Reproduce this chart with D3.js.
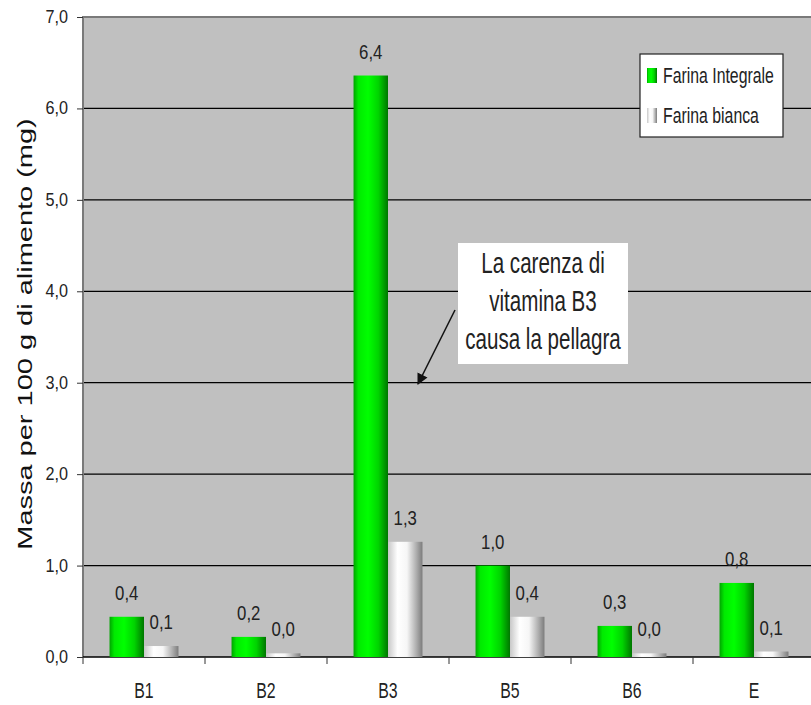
<!DOCTYPE html>
<html>
<head>
<meta charset="utf-8">
<script src="https://cdn.jsdelivr.net/npm/d3@7"></script>
<style>
  html, body { margin: 0; padding: 0; background: #ffffff; }
  svg { display: block; }
  text { font-family: "Liberation Sans", Arial, sans-serif; fill: #222; }
</style>
</head>
<body>
<svg id="chart" width="811" height="705"></svg>
<script>
// Vitamin content per 100 g of flour (mg)
const categories = ["B1", "B2", "B3", "B5", "B6", "E"];
const seriesNames = ["Farina Integrale", "Farina bianca"];
const integrale = [0.44, 0.22, 6.36, 1.00, 0.34, 0.81];
const bianca = [0.12, 0.04, 1.26, 0.44, 0.04, 0.06];
const yTicks = [0, 1, 2, 3, 4, 5, 6, 7];
const yTitle = "Massa per 100 g di alimento (mg)";
const noteLines = ["La carenza di", "vitamina B3", "causa la pellagra"];

const itLocale = d3.formatLocale({ decimal: ",", thousands: ".", grouping: [3], currency: ["", "€"] });
const fmt = itLocale.format(".1f");

const svg = d3.select("#chart");
const plot = { left: 83, top: 17, right: 815, bottom: 657 };

const x0 = d3.scaleBand().domain(categories).range([plot.left, plot.right]).paddingInner(0).paddingOuter(0);
const x1 = d3.scaleBand().domain(seriesNames).range([0, x0.bandwidth()]).paddingInner(0).paddingOuter(0.77);
const y = d3.scaleLinear().domain([0, 7]).range([plot.bottom, plot.top]);

// gradients for the cylinder-like bars
const defs = svg.append("defs");
function grad(id, stops) {
  const g = defs.append("linearGradient").attr("id", id).attr("x1", "0%").attr("x2", "100%").attr("y1", "0%").attr("y2", "0%");
  stops.forEach(s => g.append("stop").attr("offset", s[0]).attr("stop-color", s[1]));
}
grad("gGreen", [["0%", "#00a400"], ["14%", "#00ea00"], ["42%", "#00ff00"], ["72%", "#00d400"], ["100%", "#007600"]]);
grad("gWhite", [["0%", "#c8c8c8"], ["28%", "#ffffff"], ["55%", "#f6f6f6"], ["80%", "#b4b4b4"], ["100%", "#7c7c7c"]]);
const fills = { "Farina Integrale": "url(#gGreen)", "Farina bianca": "url(#gWhite)" };

// plot background
svg.append("rect")
  .attr("x", plot.left).attr("y", plot.top)
  .attr("width", plot.right - plot.left).attr("height", plot.bottom - plot.top)
  .attr("fill", "#c0c0c0");

// gridlines
svg.append("g").selectAll("line")
  .data(yTicks.filter(t => t > 0 && t < 7))
  .join("line")
  .attr("x1", plot.left).attr("x2", plot.right)
  .attr("y1", d => y(d)).attr("y2", d => y(d))
  .attr("stroke", "#000").attr("stroke-width", 1.2);

// frame (top and left)
svg.append("path")
  .attr("d", `M${plot.left},${plot.bottom} V${plot.top} H${plot.right}`)
  .attr("fill", "none").attr("stroke", "#7a7a7a").attr("stroke-width", 2);

// helper for horizontally condensed text
function htext(g, x, yy, str, size, sx, anchor) {
  return g.append("text")
    .attr("transform", `translate(${x},${yy}) scale(${sx},1)`)
    .attr("text-anchor", anchor || "middle")
    .style("font-size", size + "px")
    .text(str);
}

// y axis
const yAxis = svg.append("g")
  .attr("transform", `translate(${plot.left},0)`)
  .call(d3.axisLeft(y).tickValues(yTicks).tickSize(6).tickFormat(""));
yAxis.select(".domain").remove();
yAxis.selectAll("line").attr("stroke", "#333");
yTicks.forEach(t => htext(svg, 68, y(t) + 6, fmt(t), 18, 0.9, "end"));

// x axis
svg.append("line")
  .attr("x1", plot.left).attr("x2", plot.right)
  .attr("y1", plot.bottom).attr("y2", plot.bottom)
  .attr("stroke", "#000").attr("stroke-width", 1.5);
const edges = categories.map(c => x0(c)).concat([plot.right]);
svg.append("g").selectAll("line").data(edges).join("line")
  .attr("x1", d => d).attr("x2", d => d)
  .attr("y1", plot.bottom).attr("y2", plot.bottom + 7)
  .attr("stroke", "#333");
categories.forEach(c => htext(svg, x0(c) + x0.bandwidth() / 2, 698, c, 22, 0.72));

// bars
const data = categories.map((c, i) => ({ cat: c, vals: [
  { name: seriesNames[0], v: integrale[i] },
  { name: seriesNames[1], v: bianca[i] }
] }));

const groups = svg.append("g").selectAll("g").data(data).join("g")
  .attr("transform", d => `translate(${x0(d.cat)},0)`);
groups.selectAll("rect").data(d => d.vals).join("rect")
  .attr("x", d => x1(d.name))
  .attr("y", d => y(d.v))
  .attr("width", x1.bandwidth())
  .attr("height", d => y(0) - y(d.v))
  .attr("fill", d => fills[d.name]);

// value labels
data.forEach(d => {
  d.vals.forEach(s => {
    htext(svg, x0(d.cat) + x1(s.name) + x1.bandwidth() / 2, y(s.v) - 17, fmt(s.v), 20, 0.84);
  });
});

// y title
svg.append("text")
  .attr("transform", `translate(32,${(plot.top + plot.bottom) / 2 - 3}) rotate(-90) scale(1.38,1)`)
  .attr("text-anchor", "middle")
  .style("font-size", "21px")
  .style("fill", "#111")
  .text(yTitle);

// legend
const lg = svg.append("g");
lg.append("rect").attr("x", 640).attr("y", 54).attr("width", 143).attr("height", 83)
  .attr("fill", "#fff").attr("stroke", "#222").attr("stroke-width", 1.2);
seriesNames.forEach((n, i) => {
  const yy = 68 + i * 40;
  lg.append("rect").attr("x", 647).attr("y", yy).attr("width", 10).attr("height", 15).attr("fill", fills[n]);
  htext(lg, 663, yy + 15, n, 22, 0.72, "start");
});

// annotation box with arrow pointing at the B3 bar
const note = svg.append("g");
note.append("rect").attr("x", 458).attr("y", 243).attr("width", 170).attr("height", 121).attr("fill", "#fff");
noteLines.forEach((l, i) => htext(note, 543, 273 + i * 38, l, 29, 0.71));
defs.append("marker").attr("id", "arrowHead")
  .attr("viewBox", "0 0 10 10").attr("refX", 9).attr("refY", 5)
  .attr("markerWidth", 7).attr("markerHeight", 7).attr("orient", "auto")
  .append("path").attr("d", "M0,0 L10,5 L0,10 z").attr("fill", "#111");
note.append("line")
  .attr("x1", 455).attr("y1", 310).attr("x2", 418).attr("y2", 384)
  .attr("stroke", "#111").attr("stroke-width", 1.6)
  .attr("marker-end", "url(#arrowHead)");
</script>
</body>
</html>
